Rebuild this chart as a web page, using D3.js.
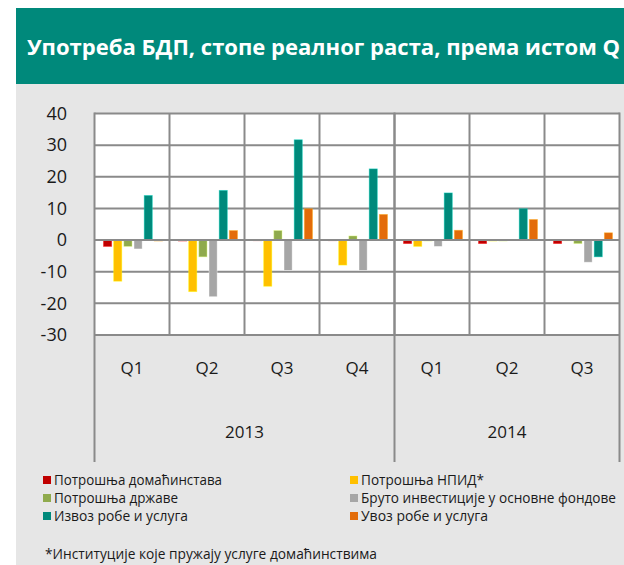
<!DOCTYPE html>
<html>
<head>
<meta charset="utf-8">
<script src="https://cdn.jsdelivr.net/npm/d3@7"></script>
<style>
  body { margin: 0; background: #fff; }
  svg { display: block; font-family: "Open Sans", "Noto Sans", sans-serif; }
</style>
</head>
<body>
<script>
// подаци
const quarters = ["Q1", "Q2", "Q3", "Q4", "Q1", "Q2", "Q3"];
const years = ["2013", "2013", "2013", "2013", "2014", "2014", "2014"];
const yearLabels = ["2013", "2014"];
const seriesNames = [
  "Потрошња домаћинстава",
  "Потрошња НПИД*",
  "Потрошња државе",
  "Бруто инвестиције  у основне фондове",
  "Извоз робе и услуга",
  "Увоз робе и услуга"
];
const household = [-2.0, -0.3, -0.2, -0.2, -1.1, -1.1, -1.1];
const npid = [-13.0, -16.3, -14.6, -7.9, -2.0, -0.3, -0.2];
const government = [-2.0, -5.3, 3.0, 1.3, -0.3, -0.3, -1.1];
const investment = [-2.8, -17.9, -9.6, -9.6, -2.0, -0.2, -7.0];
const exports = [14.1, 15.7, 31.7, 22.5, 14.9, 9.9, -5.3];
const imports = [-0.3, 3.0, 9.9, 8.1, 3.1, 6.5, 2.3];
const yTicks = [-30, -20, -10, 0, 10, 20, 30, 40];
const title = "Употреба БДП, стопе реалног раста, према истом Q";
const footnote = "*Институције које пружају услуге домаћинствима";

const seriesValues = [household, npid, government, investment, exports, imports];
const colors = ["#c00000", "#ffc000", "#8faa4d", "#a6a6a6", "#00897b", "#e36c0a"];
const legendWidths = [168, 123, 124, 255, 134, 127];

const width = 624;
const height = 565;

const svg = d3.select("body").append("svg")
    .attr("width", width)
    .attr("height", height);

// позадина и наслов
svg.append("rect").attr("x", 16).attr("y", 8).attr("width", width - 16).attr("height", 76)
    .attr("fill", "#00897b");
svg.append("rect").attr("x", 16).attr("y", 84).attr("width", width - 16).attr("height", height - 84)
    .attr("fill", "#e6e6e6");
svg.append("text")
    .attr("x", 27).attr("y", 55)
    .attr("fill", "#fff")
    .attr("font-size", 22)
    .attr("font-weight", 700)
    .attr("textLength", 593)
    .attr("lengthAdjust", "spacingAndGlyphs")
    .text(title);

// скале
const plot = { left: 94.5, right: 619.5, top: 113.5, bottom: 335 };

const keys = quarters.map((q, i) => years[i] + q);
const x = d3.scaleBand().domain(keys).range([plot.left, plot.right]);
const xInner = d3.scaleBand().domain(d3.range(seriesNames.length))
    .range([9, 68]).paddingInner(0.2);
const y = d3.scaleLinear().domain([-30, 40]).range([plot.bottom, plot.top]);

svg.append("rect")
    .attr("x", plot.left).attr("y", plot.top)
    .attr("width", plot.right - plot.left).attr("height", plot.bottom - plot.top)
    .attr("fill", "#fff");

const gridColor = "#8a8a8a";

svg.append("g").selectAll("line")
    .data(yTicks)
    .join("line")
    .attr("x1", plot.left).attr("x2", plot.right)
    .attr("y1", d => y(d)).attr("y2", d => y(d))
    .attr("stroke", gridColor).attr("stroke-width", 2);

// вертикалне линије између квартала
svg.append("g").selectAll("line")
    .data(keys.slice(1))
    .join("line")
    .attr("x1", d => x(d)).attr("x2", d => x(d))
    .attr("y1", plot.top).attr("y2", plot.bottom)
    .attr("stroke", gridColor).attr("stroke-width", 2);

// граничне линије година (продужене испод)
const yearBounds = [plot.left, x(keys[years.indexOf("2014")]), plot.right];
svg.append("g").selectAll("line")
    .data(yearBounds)
    .join("line")
    .attr("x1", d => d).attr("x2", d => d)
    .attr("y1", plot.top - 1).attr("y2", 462)
    .attr("stroke", gridColor).attr("stroke-width", 2);

// стубићи
const groups = svg.append("g").selectAll("g")
    .data(seriesValues)
    .join("g")
    .attr("fill", (d, i) => colors[i]);

groups.each(function (vals, si) {
  d3.select(this).selectAll("rect")
    .data(vals)
    .join("rect")
    .attr("x", (v, i) => x(keys[i]) + xInner(si))
    .attr("width", xInner.bandwidth())
    .attr("y", v => y(Math.max(0, v)))
    .attr("height", v => Math.abs(y(v) - y(0)))
    .attr("stroke", d3.color(colors[si]).brighter(1.3))
    .attr("stroke-opacity", 0.5)
    .attr("stroke-width", 0.8);
});

// нулта линија преко стубића
svg.append("line")
    .attr("x1", plot.left).attr("x2", plot.right)
    .attr("y1", y(0)).attr("y2", y(0))
    .attr("stroke", gridColor).attr("stroke-width", 2);

// ознаке на y оси
svg.append("g").selectAll("text")
    .data(yTicks)
    .join("text")
    .attr("x", 67).attr("y", d => y(d))
    .attr("dy", "0.35em")
    .attr("text-anchor", "end")
    .attr("font-size", 18)
    .attr("fill", "#1a1a1a")
    .text(d => d);

// ознаке квартала и година
svg.append("g").selectAll("text")
    .data(keys)
    .join("text")
    .attr("x", d => x(d) + x.bandwidth() / 2)
    .attr("y", 368)
    .attr("dy", "0.35em")
    .attr("text-anchor", "middle")
    .attr("font-size", 17)
    .attr("fill", "#1a1a1a")
    .text((d, i) => quarters[i]);

svg.append("g").selectAll("text")
    .data(yearLabels)
    .join("text")
    .attr("x", (d, i) => (yearBounds[i] + yearBounds[i + 1]) / 2)
    .attr("y", 432)
    .attr("dy", "0.35em")
    .attr("text-anchor", "middle")
    .attr("font-size", 17)
    .attr("fill", "#1a1a1a")
    .text(d => d);

// легенда
const legend = svg.append("g").selectAll("g")
    .data(seriesNames)
    .join("g")
    .attr("transform", (d, i) => `translate(${i % 2 === 0 ? 43 : 350},${480 + Math.floor(i / 2) * 18})`);

legend.append("rect")
    .attr("x", 0).attr("y", -4)
    .attr("width", 8).attr("height", 8)
    .attr("fill", (d, i) => colors[i]);

legend.append("text")
    .attr("x", 11).attr("dy", "0.35em")
    .attr("font-size", 14)
    .attr("fill", "#1a1a1a")
    .attr("textLength", (d, i) => legendWidths[i])
    .attr("lengthAdjust", "spacingAndGlyphs")
    .text(d => d);

svg.append("text")
    .attr("x", 45).attr("y", 554)
    .attr("dy", "0.35em")
    .attr("font-size", 14)
    .attr("fill", "#1a1a1a")
    .attr("textLength", 332)
    .attr("lengthAdjust", "spacingAndGlyphs")
    .text(footnote);
</script>
</body>
</html>
